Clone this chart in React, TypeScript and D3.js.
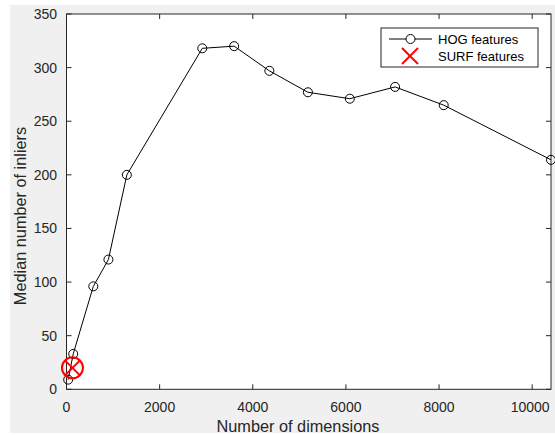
import React from "react"
import * as d3 from "d3"

// HOG feature dimensions vs median inliers
const hogDims = [36, 144, 576, 900, 1296, 2916, 3600, 4356, 5184, 6084, 7056, 8100, 10404]
const hogInliers = [9, 33, 96, 121, 200, 318, 320, 297, 277, 271, 282, 265, 214]
const surfDims = [128]
const surfInliers = [20]
const xTicks = [0, 2000, 4000, 6000, 8000, 10000]
const yTicks = [0, 50, 100, 150, 200, 250, 300, 350]
const legendLabels = ["HOG features", "SURF features"]

const W = 555
const H = 435
const left = 66.5
const right = 551
const top = 14
const bottom = 389.3
const axisColor = "#262626"
const font = "'Liberation Sans', Arial, Helvetica, sans-serif"

const App = () => {
  const x = d3.scaleLinear().domain([0, 10404]).range([left, right])
  const y = d3.scaleLinear().domain([0, 350]).range([bottom, top])

  const line = d3.line<number>()
    .x((d, i) => x(hogDims[i]))
    .y((d) => y(d))

  const tick = 5

  return (
    <svg width={W} height={H} style={{ position: "absolute", left: 0, top: 0 }} fontFamily={font}>
      <rect x={0} y={0} width={W} height={H} fill="#fff" />
      <rect x={10} y={5} width={W - 10} height={H - 7} fill="#f0f0f0" />
      <rect x={left} y={top} width={right - left} height={bottom - top} fill="#fff" />

      {/* ticks on all four sides */}
      {xTicks.map((t) => (
        <g key={"xt" + t}>
          <line x1={x(t)} x2={x(t)} y1={bottom} y2={bottom - tick} stroke={axisColor} />
          <line x1={x(t)} x2={x(t)} y1={top} y2={top + tick} stroke={axisColor} />
          <text x={x(t) - (t === 10000 ? 2 : 0)} y={411.5} textAnchor="middle" fontSize={14} fill={axisColor}>{t}</text>
        </g>
      ))}
      {yTicks.map((t) => (
        <g key={"yt" + t}>
          <line x1={left} x2={left + tick} y1={y(t)} y2={y(t)} stroke={axisColor} />
          <line x1={right} x2={right - tick} y1={y(t)} y2={y(t)} stroke={axisColor} />
          <text x={57} y={y(t) + 5} textAnchor="end" fontSize={14} fill={axisColor}>{t}</text>
        </g>
      ))}
      <rect x={left} y={top} width={right - left} height={bottom - top} fill="none" stroke={axisColor} strokeWidth={1} />

      <text x={298} y={431.5} textAnchor="middle" fontSize={16.3} fill={axisColor}>Number of dimensions</text>
      <text transform={`translate(26,216) rotate(-90)`} textAnchor="middle" fontSize={16.3} fill={axisColor}>Median number of inliers</text>

      {/* HOG series */}
      <path d={line(hogInliers) || ""} fill="none" stroke="#000" strokeWidth={1} />
      {hogInliers.map((v, i) => (
        <circle key={"h" + i} cx={x(hogDims[i])} cy={y(v)} r={4.5} fill="none" stroke="#000" strokeWidth={1} />
      ))}

      {/* SURF point */}
      {surfInliers.map((v, i) => {
        const cx = x(surfDims[i])
        const cy = y(v)
        const s = 7.5
        return (
          <g key={"s" + i} stroke="#ff0000" strokeWidth={2} fill="none">
            <circle cx={cx} cy={cy} r={10.5} />
            <line x1={cx - s} y1={cy - s} x2={cx + s} y2={cy + s} />
            <line x1={cx - s} y1={cy + s} x2={cx + s} y2={cy - s} />
          </g>
        )
      })}

      {/* legend */}
      <g>
        <rect x={381} y={28} width={157} height={39} fill="#fff" stroke={axisColor} strokeWidth={1} />
        <line x1={389} x2={432} y1={39} y2={39} stroke="#000" />
        <circle cx={410.5} cy={39} r={4.5} fill="#fff" stroke="#000" />
        <text x={438} y={43.5} fontSize={13} fill="#000">{legendLabels[0]}</text>
        <g stroke="#ff0000" strokeWidth={2}>
          <line x1={402} y1={48} x2={418} y2={64} />
          <line x1={402} y1={64} x2={418} y2={48} />
        </g>
        <text x={438} y={60.5} fontSize={13} fill="#000">{legendLabels[1]}</text>
      </g>
    </svg>
  )
}

export default App
